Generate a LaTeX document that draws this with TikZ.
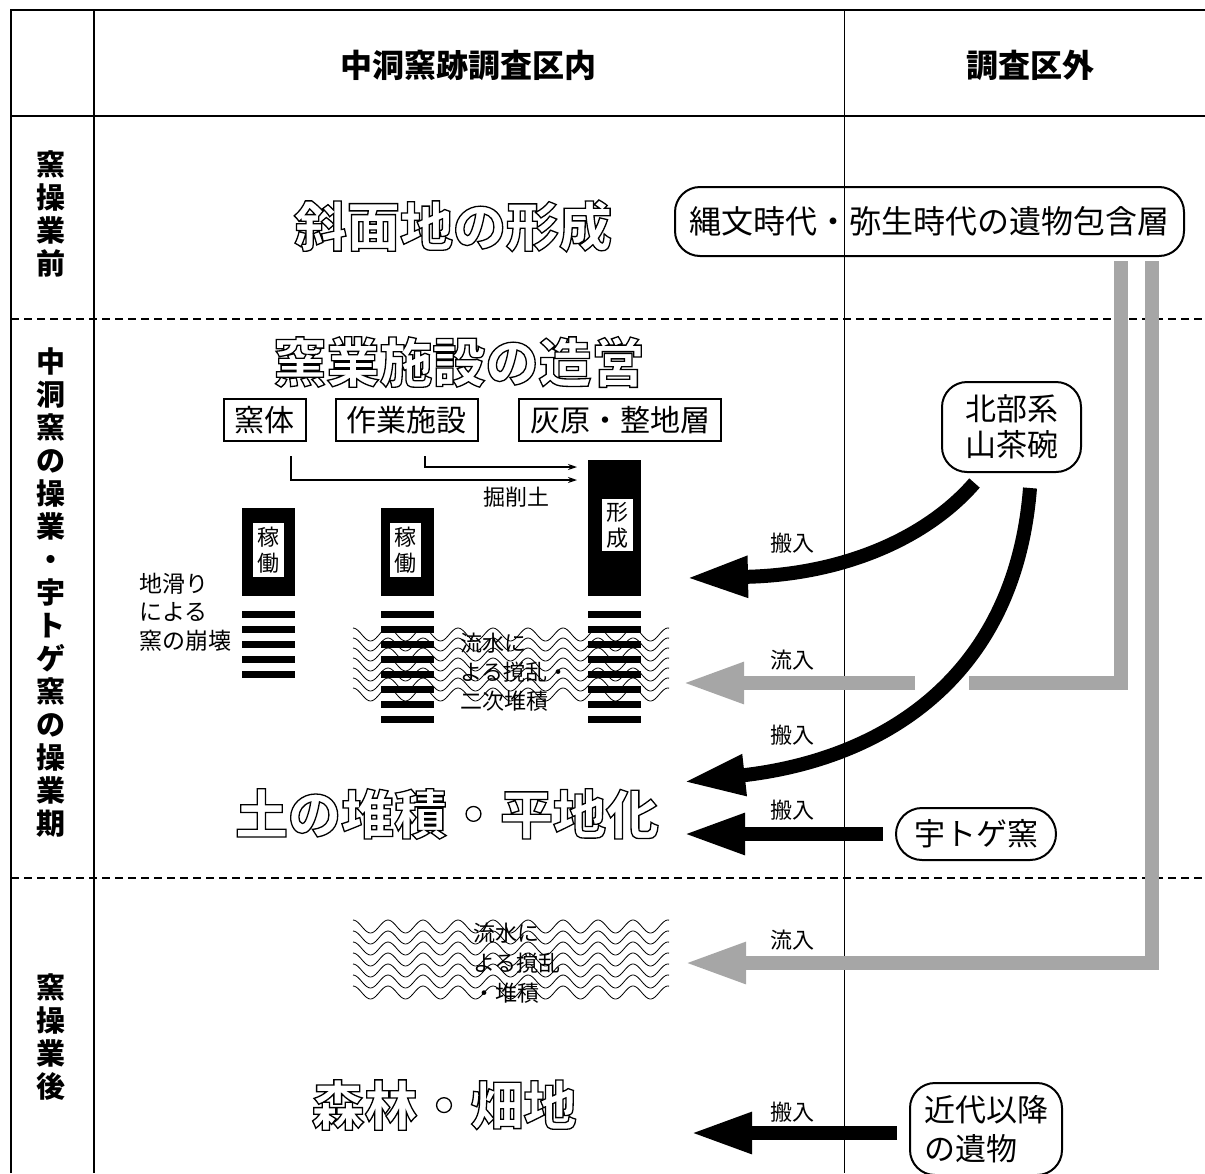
\documentclass[tikz,border=0pt]{standalone}
\usepackage{fontspec}
\setmainfont{Noto Sans CJK JP}
\usetikzlibrary{arrows.meta}
\definecolor{flowgray}{gray}{0.65}
\newcommand\hollow[1]{\special{pdf:literal direct 1 Tr 1.3 w}#1\special{pdf:literal direct 0 Tr}}
\tikzset{
  hdr/.style={font=\fontsize{32}{36}\selectfont\bfseries},
  side/.style={font=\fontsize{29}{33}\selectfont\bfseries, align=center},
  phase/.style={font=\fontsize{53}{60}\selectfont\bfseries, inner sep=0pt},
  term/.style={draw, line width=2pt, font=\fontsize{30}{36}\selectfont, inner xsep=11pt, inner ysep=0pt, minimum height=42pt},
  src/.style={draw, line width=2pt, font=\fontsize{31}{36}\selectfont, rounded corners=25pt},
  note/.style={font=\fontsize{22}{29}\selectfont, inner sep=0pt},
  kiln/.style={fill=white, font=\fontsize{22}{26}\selectfont, inner sep=0pt, minimum width=31pt, align=center},
  carry/.style={line width=14pt, -{Stealth[length=62pt,width=38pt,inset=0pt]}},
  flow/.style={carry, draw=flowgray},
  flowline/.style={line width=14pt, draw=flowgray},
  dig/.style={line width=1.6pt, -{Stealth[length=9pt,width=6pt]}},
  rule/.style={line width=2pt},
  rowsep/.style={line width=2.2pt, dash pattern=on 8pt off 5pt},
  wave/.style={line width=0.8pt},
}
\begin{document}
\begin{tikzpicture}[x=1pt,y=-1pt]
\useasboundingbox (0,0) rectangle (1205,1173);
% table
\draw[rule] (11,1173) -- (11,10) -- (1205,10);
\draw[rule] (11,116) -- (1205,116);
\draw[rule] (94,10) -- (94,1173);
\draw[line width=1pt] (844,10) -- (844,1173);
\draw[rowsep] (11,319) -- (1205,319);
\draw[rowsep] (11,878) -- (1205,878);

\node[hdr] (inside) at (468,65) {中洞窯跡調査区内};
\node[hdr] (outside) at (1030,65) {調査区外};
\node[side] (before) at (51,214) {窯\\操\\業\\前};
\node[side] (during) at (51,593) {中\\洞\\窯\\の\\操\\業\\・\\宇\\ト\\ゲ\\窯\\の\\操\\業\\期};
\node[side] (after) at (51,1037) {窯\\操\\業\\後};

% stages
\node[phase] (slope) at (453,226) {\hollow{斜面地の形成}};
\node[phase] (build) at (459,362) {\hollow{窯業施設の造営}};
\node[phase] (level) at (447,814) {\hollow{土の堆積・平地化}};
\node[phase] (forest) at (444,1105) {\hollow{森林・畑地}};

\node[term] (kama) at (264.5,420) {窯体};
\node[term] (work) at (406.5,420) {作業施設};
\node[term] (ash) at (620,420) {灰原・整地層};
\coordinate (ashin1) at (577,480);
\coordinate (ashin2) at (577,467);
\draw[dig] ([xshift=26.5pt,yshift=-14pt]kama.south) |- (ashin1);
\draw[dig] ([xshift=18.5pt,yshift=-14pt]work.south) |- (ashin2);
\node[note] (soil) at (516,497) {掘削土};

% water
\foreach \k in {0,...,6}
  \draw[wave] plot[domain=0:316, samples=181, smooth] ({353+\x},{634.5+10*\k-6.5*cos(\x/35*360)});
\foreach \k in {0,...,6}
  \draw[wave] plot[domain=0:316, samples=181, smooth] ({353+\x},{926.5+11*\k-6.5*cos(\x/35*360)});

% kilns and layers
\fill (242,508) rectangle (295,596);
\node[kiln, minimum height=54pt] (run1) at (268.5,550) {稼\\働};
\fill (381,508) rectangle (434,596);
\node[kiln, minimum height=54pt] (run2) at (405.5,550) {稼\\働};
\fill (588,460) rectangle (641,596);
\node[kiln, minimum height=52pt] (form) at (617,525) {形\\成};
\foreach \k in {0,...,4}
  \fill (242,{610.5+15*\k}) rectangle (295,{617.5+15*\k});
\foreach \c in {381,588}
  \foreach \k in {0,...,7}
    \fill (\c,{610.5+15*\k}) rectangle ({\c+53},{617.5+15*\k});

\node[note, font=\fontsize{23}{28.5}\selectfont, align=left, anchor=west] (slide) at (139,612) {地滑り\\による\\窯の崩壊};
\node[note, align=left, anchor=west] (stir1) at (460,672) {流水に\\よる撹乱・\\二次堆積};
\node[note, font=\fontsize{22}{30}\selectfont, align=left, anchor=west] (stir2) at (473,963) {流水に\\よる撹乱\\・堆積};

% outside sources
\node[src, font=\fontsize{32}{36}\selectfont, minimum width=509pt, minimum height=69pt] (jomon) at (929.5,221.5) {縄文時代・弥生時代の遺物包含層};
\node[src, align=center, minimum width=139pt, minimum height=90pt] (north) at (1011.5,427) {北部系\\山茶碗};
\node[src, minimum width=160pt, minimum height=52pt, rounded corners=26pt] (utoge) at (976,834) {宇トゲ窯};
\node[src, font=\fontsize{31}{39}\selectfont, align=left, minimum width=152pt, minimum height=92pt] (modern) at (986,1129) {近代以降\\の遺物};

\coordinate (intoA) at (686,578);
\coordinate (intoB) at (683,782);
\coordinate (intoC) at (683,834);
\coordinate (intoD) at (690,1133);
\coordinate (gapR) at (969,683);
\coordinate (gapL) at (915,683);
\coordinate (intoE) at (682,683);
\coordinate (intoF) at (684,963);

\draw[flowline] ([xshift=191.5pt,yshift=-4pt]jomon.south) |- (gapR);
\draw[flow] (gapL) -- (intoE);
\draw[flow] ([xshift=222.5pt,yshift=-4pt]jomon.south) |- (intoF);
\draw[carry] ([xshift=-37pt,yshift=-10pt]north.south) .. controls (925,540) and (840,575) .. (intoA);
\draw[carry] ([xshift=18.5pt,yshift=-15pt]north.south) .. controls (1015,680) and (880,760) .. (intoB);
\draw[carry] ([xshift=-12pt]utoge.west) -- (intoC);
\draw[carry] ([xshift=-12pt,yshift=-4pt]modern.west) -- (intoD);

\node[note] (in1) at (792,543) {搬入};
\node[note] (in2) at (792,660) {流入};
\node[note] (in3) at (792,735) {搬入};
\node[note] (in4) at (792,810) {搬入};
\node[note] (in5) at (792,940) {流入};
\node[note] (in6) at (792,1112) {搬入};
\end{tikzpicture}
\end{document}
